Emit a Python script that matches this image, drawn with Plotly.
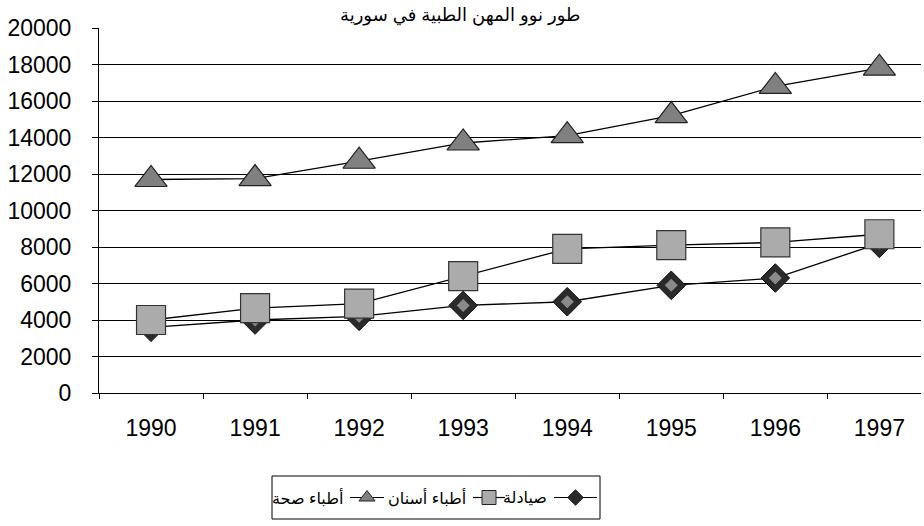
import plotly.graph_objects as go

# ---------------- data ----------------
years = ["1990", "1991", "1992", "1993", "1994", "1995", "1996", "1997"]
pharmacists = [3600, 4000, 4200, 4800, 5000, 5900, 6300, 8200]      # صيادلة
dentists = [4000, 4650, 4900, 6400, 7900, 8100, 8250, 8700]         # أطباء أسنان
physicians = [11700, 11750, 12700, 13700, 14100, 15200, 16800, 17800]  # أطباء صحة
y_ticks = [0, 2000, 4000, 6000, 8000, 10000, 12000, 14000, 16000, 18000, 20000]
grid_ticks = y_ticks[:-1]

title_text = "طور نوو المهن الطبية في سورية"
names = {"ph": "صيادلة", "de": "أطباء أسنان", "md": "أطباء صحة"}

W, H = 924, 526
# plot area in pixels
PX0, PX1, PY0, PY1 = 99, 921, 28, 393
FONT = "Arial, Liberation Sans, DejaVu Sans, sans-serif"

fig = go.Figure()

line_style = dict(color="black", width=1.3)

fig.add_trace(go.Scatter(x=years, y=physicians, mode="lines+markers", line=line_style,
                         marker=dict(symbol="triangle-up", size=28, color="#808080",
                                     line=dict(color="#222", width=1.2)),
                         name=names["md"], showlegend=False))
fig.add_trace(go.Scatter(x=years, y=pharmacists, mode="lines+markers", line=line_style,
                         marker=dict(symbol="diamond", size=22, color="#2a2a2a",
                                     line=dict(color="#111", width=1)),
                         name=names["ph"], showlegend=False))
fig.add_trace(go.Scatter(x=years, y=pharmacists, mode="markers",
                         marker=dict(symbol="diamond", size=10, color="#8a8a8a"),
                         hoverinfo="skip", showlegend=False))
fig.add_trace(go.Scatter(x=years, y=dentists, mode="lines+markers", line=line_style,
                         marker=dict(symbol="square", size=29, color="#ababab",
                                     line=dict(color="#333", width=1.2)),
                         name=names["de"], showlegend=False))
# invisible trace so the grid-only axis renders
fig.add_trace(go.Scatter(x=years, y=[None] * len(years), yaxis="y3", showlegend=False, hoverinfo="skip"))

# ---------------- custom RTL legend (pixel overlay axes) ----------------
LB = dict(x0=272, x1=600, y0=476, y1=519)
ly = (LB["y0"] + LB["y1"]) / 2
legend_items = [  # (text right edge, segment x0, segment x1, symbol, size, fill, name)
    (345, 350, 384, "triangle-up", 14, "#808080", names["md"]),
    (468, 473, 505, "square", 14, "#ababab", names["de"]),
    (549, 554, 597, "diamond", 12, "#2a2a2a", names["ph"]),
]
for tx, s0, s1, sym, sz, col, nm in legend_items:
    fig.add_trace(go.Scatter(x=[s0, s1], y=[ly, ly], mode="lines", line=dict(color="black", width=1.2),
                             xaxis="x2", yaxis="y2", showlegend=False, hoverinfo="skip"))
    fig.add_trace(go.Scatter(x=[(s0 + s1) / 2], y=[ly], mode="markers",
                             marker=dict(symbol=sym, size=sz, color=col, line=dict(color="#222", width=1)),
                             xaxis="x2", yaxis="y2", showlegend=False, hoverinfo="skip"))
    fig.add_annotation(x=tx, y=ly, xref="x2", yref="y2", text=nm, showarrow=False,
                       xanchor="right", yanchor="middle", font=dict(family=FONT, size=16, color="black"))

fig.add_shape(type="rect", xref="x2", yref="y2", x0=LB["x0"], x1=LB["x1"], y0=LB["y0"], y1=LB["y1"],
              line=dict(color="black", width=1), layer="below")

fig.add_annotation(x=460, y=15, xref="x2", yref="y2", text=title_text, showarrow=False,
                   xanchor="center", yanchor="middle", font=dict(family=FONT, size=18, color="black"))

fig.update_layout(
    width=W, height=H,
    margin=dict(l=0, r=0, t=0, b=0, pad=0, autoexpand=False),
    paper_bgcolor="white", plot_bgcolor="rgba(0,0,0,0)",
    font=dict(family=FONT, color="black"),
    xaxis=dict(domain=[PX0 / W, PX1 / W], type="category", range=[-0.5, 7.4],
               showline=True, linecolor="black", linewidth=1,
               ticks="outside", tickson="boundaries", ticklen=5, tickcolor="black",
               showgrid=False, tickfont=dict(size=23, family=FONT), ticklabelstandoff=14),
    yaxis=dict(domain=[(H - PY1) / H, (H - PY0) / H], range=[0, 20000], tickvals=y_ticks,
               tickformat="d",
               showline=True, linecolor="black", linewidth=1,
               ticks="outside", ticklen=6, tickcolor="black", showgrid=False, zeroline=False,
               tickfont=dict(size=23, family=FONT), ticklabelstandoff=16),
    yaxis3=dict(domain=[(H - PY1) / H, (H - PY0) / H], range=[0, 20000], overlaying="y",
                tickvals=grid_ticks, showticklabels=False, showgrid=True, gridcolor="black",
                gridwidth=1, zeroline=False, showline=False),
    xaxis2=dict(domain=[0, 1], range=[0, W], visible=False, anchor="y2", fixedrange=True),
    yaxis2=dict(domain=[0, 1], range=[H, 0], visible=False, anchor="x2", fixedrange=True),
    showlegend=False,
)

fig.write_html("out.html", config={"displayModeBar": False},
               post_script="document.body.style.margin='0';document.body.style.overflow='hidden';")
